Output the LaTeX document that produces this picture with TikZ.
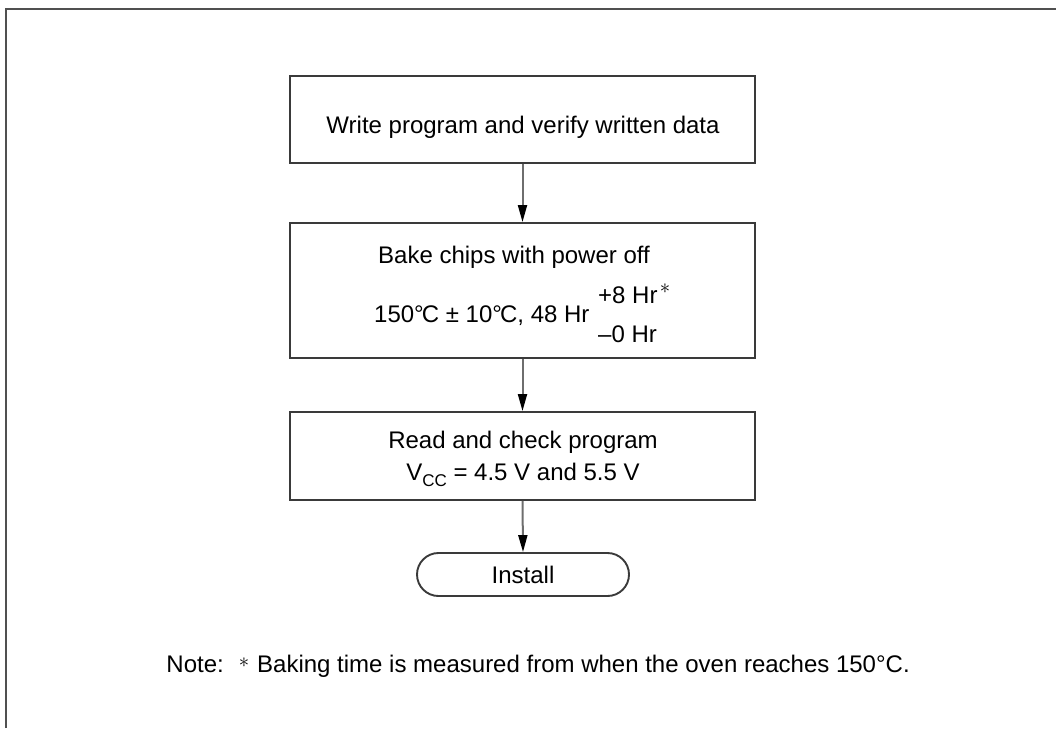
\documentclass[tikz,border=0pt]{standalone}
\usepackage{fontspec}
\setmainfont{Liberation Sans}
\usetikzlibrary{arrows.meta,shapes.misc}
\definecolor{framegray}{HTML}{505050}
\definecolor{boxgray}{HTML}{3A3A3A}
\definecolor{linegray}{HTML}{6E6E6E}
\tikzset{
  stepbox/.style={draw=boxgray,line width=1.9pt,minimum width=465pt,inner sep=0pt},
  termbox/.style={draw=boxgray,line width=1.9pt,rounded rectangle,minimum width=212pt,minimum height=43pt,inner sep=0pt},
  conn/.style={draw=linegray,line width=2pt,-{Triangle[length=17pt,width=9pt,fill=black,color=black]}},
  txt/.style={inner sep=0pt,font=\fontsize{24}{28}\selectfont},
}
\begin{document}
\begin{tikzpicture}[x=1pt,y=-1pt]
\useasboundingbox (0,0) rectangle (1056,728);
% outer frame (right and bottom edges lie outside the page)
\draw[framegray,line width=2.4pt] (6,728) -- (6,9) -- (1056,9);
% boxes
\node[stepbox,minimum height=87pt] (b1) at (522.5,119.5) {};
\node[stepbox,minimum height=135pt] (b2) at (522.5,290.5) {};
\node[stepbox,minimum height=88pt] (b3) at (522.5,456) {};
\node[termbox] (inst) at (523,574.5) {};
% texts
\node[txt,anchor=base] (t1) at (523,133) {Write program and verify written data};
\node[txt,anchor=base] (t2a) at (514,263) {Bake chips with power off};
\node[txt,anchor=base west] (t2b) at (374,322) {150\textdegree\kern-0.08em C ± 10\textdegree\kern-0.08em C, 48 Hr};
\node[txt,anchor=base west] (t2c) at (598,303) {+8 Hr};
\node[inner sep=0pt,font=\fontsize{20}{20}\selectfont] (t2s) at (665,289) {$\ast$};
\node[txt,anchor=base west] (t2d) at (598,342) {–0 Hr};
\node[txt,anchor=base] (t3a) at (523,448) {Read and check program};
\node[txt,anchor=base] (t3b) at (523,480) {V\raisebox{-6pt}{\fontsize{17}{17}\selectfont CC} = 4.5 V and 5.5 V};
\node[txt,anchor=base] (t4) at (523,583) {Install};
% note
\node[txt,anchor=base east] (nl) at (224,672) {Note:};
\node[inner sep=0pt,font=\fontsize{20}{20}\selectfont] (ns) at (244,663) {$\ast$};
\node[txt,anchor=base west] (nt) at (257,672) {Baking time is measured from when the oven reaches 150°C.};
% connectors
\draw[conn] (b1.south) -- (b2.north);
\draw[conn] (b2.south) -- (b3.north);
\draw[conn] (b3.south) -- (inst.north);
\end{tikzpicture}
\end{document}
